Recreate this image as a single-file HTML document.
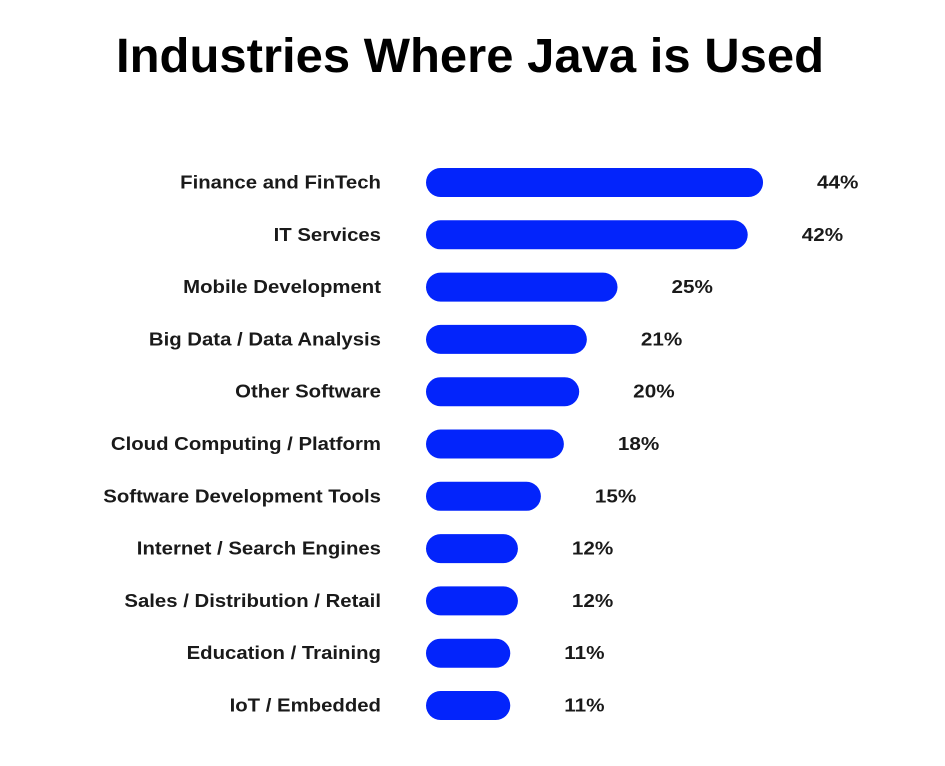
<!DOCTYPE html>
<html><head><meta charset="utf-8"><style>
html,body{margin:0;padding:0;background:#fff;}
svg{display:block;font-family:"Liberation Sans",sans-serif;}
</style></head><body>
<svg id="chart" width="945" height="766">
<text x="470" y="72" text-anchor="middle" font-size="48" font-weight="bold" fill="#000" textLength="708" lengthAdjust="spacingAndGlyphs">Industries Where Java is Used</text>
<g id="bars"></g>
</svg>
<script>
const categories = ["Finance and FinTech","IT Services","Mobile Development","Big Data / Data Analysis","Other Software","Cloud Computing / Platform","Software Development Tools","Internet / Search Engines","Sales / Distribution / Retail","Education / Training","IoT / Embedded"];
const values = [44,42,25,21,20,18,15,12,12,11,11];
const valueLabels = ["44%","42%","25%","21%","20%","18%","15%","12%","12%","11%","11%"];

const x0 = 426, pxPer = 7.66;
const xScale = v => x0 + v * pxPer;
const yScale = i => 182.5 + i * 52.3;
const barH = 29;
const ns = "http://www.w3.org/2000/svg";
const g = document.getElementById("bars");
categories.forEach((c, i) => {
  const y = yScale(i);
  const lab = document.createElementNS(ns, "text");
  lab.setAttribute("x", 381); lab.setAttribute("y", y + 6);
  lab.setAttribute("text-anchor", "end"); lab.setAttribute("font-size", "18");
  lab.setAttribute("font-weight", "bold"); lab.setAttribute("fill", "#1a1a1a");
  lab.textContent = c;
  
  
  g.appendChild(lab);
  const L = lab.getComputedTextLength();
  lab.setAttribute("textLength", (L * 1.13).toFixed(1));
  lab.setAttribute("lengthAdjust", "spacingAndGlyphs");
  const r = document.createElementNS(ns, "rect");
  const w = xScale(values[i]) - x0;
  r.setAttribute("x", x0); r.setAttribute("y", y - barH / 2);
  r.setAttribute("width", w); r.setAttribute("height", barH);
  r.setAttribute("rx", barH / 2); r.setAttribute("fill", "#0324fb");
  
  
  g.appendChild(r);
  const vl = document.createElementNS(ns, "text");
  vl.setAttribute("x", xScale(values[i]) + 54); vl.setAttribute("y", y + 6);
  vl.setAttribute("font-size", "18"); vl.setAttribute("font-weight", "bold");
  vl.setAttribute("fill", "#1a1a1a");
  vl.textContent = valueLabels[i];
  
  
  g.appendChild(vl);
  const VL = vl.getComputedTextLength();
  vl.setAttribute("textLength", (VL * 1.15).toFixed(1));
  vl.setAttribute("lengthAdjust", "spacingAndGlyphs");
});
</script>
</body></html>
